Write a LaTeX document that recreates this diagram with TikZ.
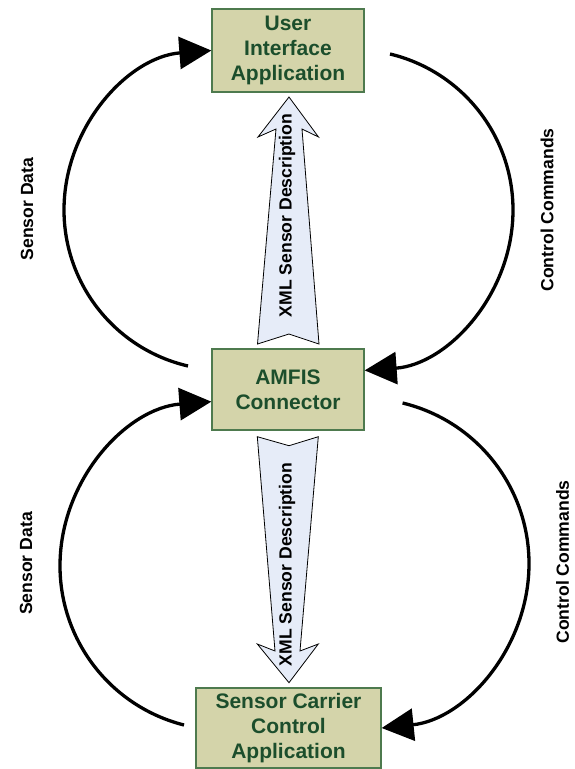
\documentclass[tikz,border=0pt]{standalone}
\usepackage{fontspec}
\setmainfont{Liberation Sans}
\usetikzlibrary{arrows.meta}
\definecolor{boxfill}{RGB}{212,212,170}
\definecolor{boxdraw}{RGB}{78,122,78}
\definecolor{boxtext}{RGB}{28,78,44}
\definecolor{blockfill}{RGB}{230,236,248}
\tikzset{
  compbox/.style={draw=boxdraw, fill=boxfill, line width=1.3pt, text=boxtext,
    font=\fontsize{21}{25}\selectfont\bfseries, align=center, inner sep=0pt},
  flow/.style={line width=3.3pt, -{Triangle[length=32pt,width=32pt]}},
  blockarrow/.style={draw=black, fill=blockfill, line width=0.8pt, line join=miter},
  sidelabel/.style={font=\fontsize{17.6}{20}\selectfont\bfseries, rotate=90, inner sep=0pt},
}
\begin{document}
\begin{tikzpicture}[x=1pt,y=-1pt]
\useasboundingbox (0,0) rectangle (575,769);

% block arrows
\draw[blockarrow] (289,97) -- (318.5,137) -- (302,129) -- (319,344) -- (289,334)
  -- (257.5,344) -- (276,129) -- (258,137) -- cycle;
\draw[blockarrow] (257.3,436.7) -- (289,445.7) -- (318.3,436.7) -- (300,651)
  -- (318.3,644) -- (289,682.7) -- (257.3,644) -- (275,651) -- cycle;
\node[sidelabel] (xmltop) at (287,215.5) {XML Sensor Description};
\node[sidelabel] (xmlbot) at (287,564.5) {XML Sensor Description};

% boxes
\node[compbox, minimum width=152pt, minimum height=83pt] (top) at (288,50.5)
  {User\\Interface\\Application};
\node[compbox, minimum width=152pt, minimum height=81pt] (mid) at (288,389.5)
  {AMFIS\\Connector};
\node[compbox, minimum width=185pt, minimum height=80pt] (bot) at (288.5,728)
  {Sensor Carrier\\Control\\Application};

% free ends and mid points of the curved connectors
\coordinate (tlstart) at (188,366);
\coordinate (tlmid) at (64,210);
\coordinate (trstart) at (390,54);
\coordinate (trmid) at (513,210);
\coordinate (blstart) at (184,725);
\coordinate (blmid) at (60,565.8);
\coordinate (brstart) at (402.6,403);
\coordinate (brmid) at (529,563.6);

% curved connectors
\draw[flow] (tlstart) .. controls (115.4,349.2) and (64,284.5) .. (tlmid)
  .. controls (64,126.4) and (128.6,56.8) .. (top.west);
\draw[flow] (trstart) .. controls (462.2,71.3) and (513,135.8) .. (trmid)
  .. controls (513,294.6) and (447.4,364.5) .. (mid.14.4);
\draw[flow] (blstart) .. controls (111.1,706.6) and (60,641) .. (blmid)
  .. controls (60,479.7) and (126.6,408.2) .. (mid.189.3);
\draw[flow] (brstart) .. controls (476.8,420.9) and (529,487.3) .. (brmid)
  .. controls (529,648.4) and (464.9,719.4) .. (bot.east);

% side labels
\node[sidelabel] (sdtop) at (27,209) {Sensor Data};
\node[sidelabel] (sdbot) at (26,563.5) {Sensor Data};
\node[sidelabel] (cctop) at (547,210) {Control Commands};
\node[sidelabel] (ccbot) at (562.5,562) {Control Commands};
\end{tikzpicture}
\end{document}
